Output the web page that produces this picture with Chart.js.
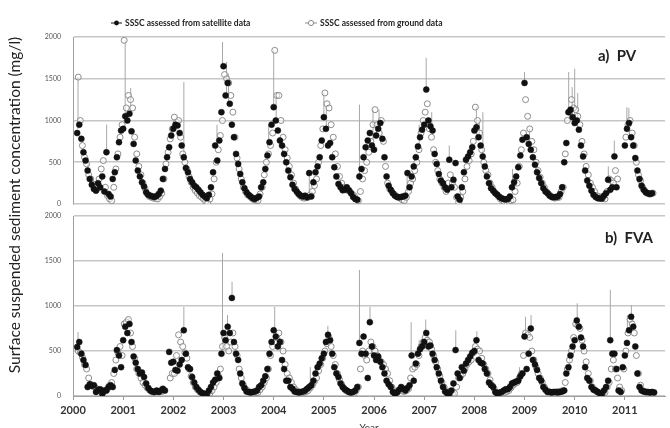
<!DOCTYPE html>
<html><head><meta charset="utf-8">
<script src="https://cdn.jsdelivr.net/npm/chart.js@4.4.0/dist/chart.umd.min.js"></script>
<style>
html,body{margin:0;padding:0;background:#fff;overflow:hidden;width:670px;height:428px}
#wrap{position:relative;width:670px;height:440px}
</style></head>
<body><div id="wrap"><canvas id="c" width="670" height="440"></canvas></div>
<script>
const START_YEAR = 2000;
const yearTicks = [2000,2001,2002,2003,2004,2005,2006,2007,2008,2009,2010,2011];
const legendLabels = ['SSSC assessed from satellite data','SSSC assessed from ground data'];
const panelLabels = ['a)  PV','b)  FVA'];
const yTitle = 'Surface suspended sediment concentration (mg/l)';
const xTitle = 'Year';

// PV satellite: half-month steps from Jan 2000
const pvSat = [
 null,null,850,950,780,620,520,400,300,230,180,160,250,200,330,150,620,120,90,300,380,560,740,880,
 900,1050,1000,1080,870,720,520,400,330,260,210,140,110,100,90,85,95,120,160,300,420,560,680,820,
 900,950,940,850,700,560,430,380,300,260,220,200,170,140,110,90,70,110,200,380,700,520,760,1100,
 1650,1300,1450,1200,950,800,600,480,360,260,190,140,110,90,70,60,75,90,200,260,420,580,740,950,
 1160,1000,880,760,700,600,500,400,320,230,180,150,120,100,90,100,80,370,90,260,380,450,560,760,
 1040,900,700,730,560,440,330,240,200,165,170,200,165,130,85,60,50,330,420,560,680,760,850,700,
 650,820,900,970,780,560,330,220,170,130,100,85,80,85,90,100,370,200,330,450,560,690,800,890,
 950,1370,1000,930,880,600,480,360,280,250,200,170,530,200,290,490,90,50,200,380,530,570,620,680,
 880,920,800,700,570,450,330,250,190,160,130,110,85,70,60,55,60,90,200,260,330,440,580,770,
 1450,800,720,650,560,470,380,310,250,190,150,130,100,85,80,85,90,120,200,500,730,1100,1130,1040,
 970,1000,890,700,570,400,280,220,160,110,85,70,65,65,100,130,290,170,200,570,200,null,null,null,
 700,900,970,800,700,550,400,300,220,170,140,130,120,130
];
// PV ground: half-month steps, offset a quarter month
const pvGround = [
 null,null,1520,1000,700,560,480,350,300,240,200,180,300,420,520,200,100,60,40,200,420,600,800,950,
 1960,1150,1300,1250,1150,800,600,450,350,250,180,120,90,80,70,65,60,90,130,300,480,620,780,900,
 1040,980,1000,800,600,500,420,330,260,200,160,130,100,80,60,30,10,60,120,300,500,650,820,1000,
 1550,1500,1450,1300,1100,800,550,420,300,200,150,110,90,70,50,45,40,120,200,350,500,600,700,850,
 1840,1300,1300,1000,800,650,550,450,350,250,180,130,100,80,70,75,80,110,150,220,300,500,700,900,
 1330,1200,1150,950,800,600,450,330,250,200,180,160,150,120,100,60,40,150,300,400,500,620,750,950,
 1130,950,850,1000,750,450,250,180,150,120,100,80,70,50,40,80,150,250,300,400,500,650,850,1000,
 1100,1200,900,800,650,500,400,300,250,200,150,250,350,250,200,80,20,80,150,300,450,520,600,750,
 1160,1000,850,650,500,400,350,250,200,150,120,90,60,40,20,25,30,40,50,150,250,450,650,850,
 1250,1050,900,750,650,500,400,320,250,200,150,120,100,80,70,75,80,150,200,600,1000,1100,1250,1150,
 1130,1050,950,750,600,450,350,250,200,150,100,90,80,70,60,150,300,280,250,400,300,null,null,null,
 800,950,1000,850,700,500,350,280,200,160,130,120,120,130
];
// FVA satellite: half-month steps
const fvaSat = [
 null,null,545,600,470,400,345,100,130,110,120,45,70,75,25,60,60,100,120,100,290,510,450,320,
 620,770,700,800,600,440,370,300,250,260,210,140,90,60,50,45,60,45,60,80,60,null,490,370,
 380,290,280,350,400,730,470,320,300,210,150,100,70,45,30,25,15,60,100,150,180,250,200,470,
 700,620,770,700,1090,600,470,400,250,140,90,50,45,40,45,50,60,100,120,170,220,300,470,600,
 730,660,550,600,400,300,170,170,100,80,50,45,40,45,50,60,80,100,120,170,250,320,360,420,
 470,600,680,620,470,320,250,210,140,100,75,60,45,40,45,60,100,590,470,660,470,200,820,550,
 450,400,440,380,320,250,170,130,100,45,25,40,70,100,80,60,90,120,450,170,360,470,520,550,
 600,700,550,560,470,400,320,250,170,100,50,30,25,60,140,510,250,200,320,280,360,400,440,480,
 500,620,400,370,360,300,250,150,120,100,45,25,35,45,60,75,75,100,140,150,160,170,220,250,
 660,300,470,750,400,350,290,200,170,100,70,45,45,40,45,45,40,45,50,60,250,320,450,550,
 620,840,770,650,550,320,200,170,100,70,60,45,30,25,60,100,170,620,470,470,300,60,45,320,
 450,590,730,880,770,550,250,100,60,50,45,45,40,45,40
];
// FVA ground: half-month steps, offset a quarter month
const fvaGround = [
 null,null,500,480,430,350,300,200,130,110,100,80,60,50,40,60,80,120,150,250,400,480,550,450,
 800,820,850,700,550,420,300,250,200,150,120,90,70,50,40,45,50,50,50,null,null,null,200,250,
 250,450,680,600,550,480,420,300,220,150,100,70,50,30,20,15,10,30,60,100,150,220,300,550,
 650,550,500,600,700,550,450,300,200,120,80,60,40,35,30,35,40,70,100,150,200,300,450,550,
 600,650,700,600,500,350,250,200,150,100,70,50,40,40,40,50,60,90,120,160,200,280,350,420,
 500,580,650,550,450,350,250,180,130,90,60,50,40,35,30,60,100,300,500,450,400,500,600,550,
 500,450,400,380,350,300,250,170,100,60,40,50,60,55,50,60,80,200,300,320,350,450,550,600,
 650,620,600,520,450,380,300,220,150,100,60,40,20,25,30,100,200,220,250,300,350,380,400,480,
 550,520,500,420,350,300,250,180,120,80,40,35,30,35,40,50,60,90,120,140,150,200,250,450,
 700,680,650,500,400,320,250,200,150,100,60,50,40,40,40,45,50,55,60,150,300,400,500,650,
 800,780,750,620,500,380,250,170,100,70,50,40,30,35,40,100,150,300,400,300,200,100,60,300,
 500,700,850,800,700,450,250,120,60,50,40,40,40,40
];
// error bars: [date, low, high]
const pvBars = [
 [2000.1,900,1520],[2000.3,400,560],[2000.67,620,950],[2001.04,1050,1960],[2001.15,1080,1390],
 [2002.21,560,1460],[2002.87,700,950],[2002.98,1650,1940],[2003.06,1300,1700],[2003.1,1200,1560],
 [2003.9,740,950],[2004.0,1160,1840],[2004.05,1000,1300],[2004.71,100,370],[2005.0,1040,1330],
 [2005.05,900,1150],[2005.71,330,1190],[2005.98,770,1130],[2006.1,900,1130],[2006.66,100,370],
 [2006.9,700,950],[2007.04,1370,1750],[2007.15,930,1100],[2007.5,530,700],[2008.04,920,1160],
 [2008.1,800,1000],[2008.17,570,1100],[2008.76,200,420],[2009.0,1450,1580],[2009.1,700,900],
 [2009.88,1130,1580],[2009.95,1040,1400],[2010.0,970,1620],[2010.06,890,1330],[2010.67,290,450],
 [2010.79,570,760],[2011.04,900,1160],[2011.08,970,1150]
];
const fvaBars = [
 [2000.1,545,710],[2001.1,800,870],[2002.21,730,990],[2002.98,470,1590],[2003.08,770,900],
 [2003.17,1090,1270],[2004.02,730,990],[2004.73,100,320],[2005.08,680,780],[2005.71,590,1400],
 [2005.92,820,990],[2006.74,450,820],[2006.9,520,620],[2007.03,700,850],[2007.63,510,730],
 [2008.05,620,720],[2008.9,220,320],[2009.02,660,880],[2009.13,750,900],[2009.9,320,450],
 [2010.05,840,1030],[2010.71,620,1180],[2011.05,730,900],[2011.13,880,1010]
];

function halfMonthPoints(vals, shift){ return vals.map((v,i)=>({x: START_YEAR + (i + shift)/24, y: v})); }
function barPoints(list){
  const out = [];
  list.forEach(b => { out.push({x:b[0], y:b[1]}); out.push({x:b[0], y:b[2]}); out.push({x:b[0], y:null}); });
  return out;
}

const satStyle = {type:'scatter', pointRadius:3, pointBackgroundColor:'#111', pointBorderColor:'#111', pointBorderWidth:0.5, order:1};
const groundStyle = {type:'scatter', pointRadius:3, pointBackgroundColor:'rgba(255,255,255,0.5)', pointBorderColor:'#8c8c8c', pointBorderWidth:1, order:2};
const barStyle = {type:'line', showLine:true, spanGaps:false, pointRadius:0, borderColor:'#a8a8a8', borderWidth:1, order:3};

const datasets = [
  Object.assign({label:legendLabels[0], data: halfMonthPoints(pvSat, 0), yAxisID:'yTop'}, satStyle),
  Object.assign({label:legendLabels[1], data: halfMonthPoints(pvGround, 0.5), yAxisID:'yTop'}, groundStyle),
  Object.assign({label:'pv error', data: barPoints(pvBars), yAxisID:'yTop'}, barStyle),
  Object.assign({label:'fva sat', data: halfMonthPoints(fvaSat, 0), yAxisID:'yBot'}, satStyle),
  Object.assign({label:'fva ground', data: halfMonthPoints(fvaGround, 0.5), yAxisID:'yBot'}, groundStyle),
  Object.assign({label:'fva error', data: barPoints(fvaBars), yAxisID:'yBot'}, barStyle)
];

const FONT = 'Lato';
function yAxis(weight, stackWeight){
  return {
    type:'linear', position:'left', stack:'panels', stackWeight: stackWeight, weight: weight,
    min:0, max:2000,
    afterFit(s){ s.width = 73; },
    ticks:{stepSize:500, callback:v=>String(v), font:{family:FONT,size:7}, color:'#555', padding:12},
    grid:{color:'#c6c6c6', lineWidth:1.6, drawTicks:false},
    border:{display:true, color:'#a0a0a0', width:1}
  };
}

const decor = {
  id:'decor',
  afterDraw(chart){
    const ctx = chart.ctx;
    ctx.save();
    ctx.textBaseline = 'middle';
    // legend
    ctx.font = 'bold 8.5px ' + FONT;
    ctx.strokeStyle = '#111'; ctx.lineWidth = 1;
    ctx.beginPath(); ctx.moveTo(111,23); ctx.lineTo(122,23); ctx.stroke();
    ctx.fillStyle = '#111'; ctx.beginPath(); ctx.arc(116.5,23,2.4,0,Math.PI*2); ctx.fill();
    ctx.fillStyle = '#222'; ctx.textAlign = 'left';
    ctx.fillText(chart.data.datasets[0].label, 125, 23);
    ctx.strokeStyle = '#8c8c8c';
    ctx.beginPath(); ctx.moveTo(305,23); ctx.lineTo(317,23); ctx.stroke();
    ctx.fillStyle = '#fff'; ctx.beginPath(); ctx.arc(311,23,2.6,0,Math.PI*2); ctx.fill(); ctx.stroke();
    ctx.fillStyle = '#222';
    ctx.fillText(chart.data.datasets[1].label, 320, 23);
    // panel labels
    ctx.font = 'bold 15px ' + FONT;
    ctx.fillStyle = '#222';
    ctx.fillText(panelLabels[0], 598, chart.scales.yTop.getPixelForValue(1775));
    ctx.fillText(panelLabels[1], 605, chart.scales.yBot.getPixelForValue(1755));
    // y title
    ctx.font = '15.5px ' + FONT;
    ctx.translate(15, 205);
    ctx.rotate(-Math.PI/2);
    ctx.textAlign = 'center';
    ctx.fillText(yTitle, 0, 0);
    ctx.restore();
  }
};

new Chart(document.getElementById('c'), {
  data: {datasets},
  options: {
    responsive:false, animation:false, devicePixelRatio:1,
    layout:{padding:{top:37,left:0,right:0,bottom:0}},
    plugins:{legend:{display:false}, tooltip:{enabled:false}},
    scales:{
      x:{
        type:'linear', position:'bottom', min:2000, max:2011.8,
        afterFit(s){ s.height = 44; },
        afterBuildTicks(s){ s.ticks = yearTicks.map(v=>({value:v})); },
        ticks:{callback:v=>String(v), font:{family:FONT,size:11,weight:'bold'}, color:'#333', padding:4, maxRotation:0, autoSkip:false},
        grid:{drawOnChartArea:false, drawTicks:true, tickLength:4, color:'#999'},
        border:{display:true, color:'#a0a0a0', width:1},
        title:{display:true, text:xTitle, font:{family:FONT,size:10}, color:'#333', padding:{top:0,bottom:6}}
      },
      yTop: yAxis(3, 167),
      gap: {type:'linear', position:'left', stack:'panels', stackWeight:12, weight:2,
            afterFit(s){ s.width = 73; },
            grid:{display:false}, ticks:{display:false}, border:{display:false}},
      yBot: yAxis(1, 180)
    }
  },
  plugins:[decor]
});
</script>
</body></html>
